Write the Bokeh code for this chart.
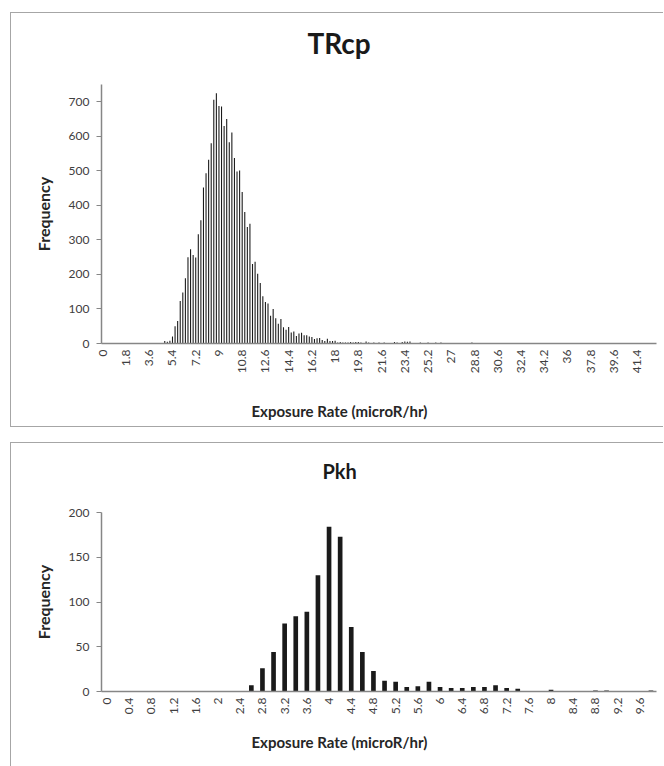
from math import pi
from bokeh.plotting import figure
from bokeh.models import Range1d, FixedTicker, Title
from bokeh.layouts import column
from bokeh.embed import file_html
from bokeh.resources import INLINE

FONT = "Lato"

# ---------------- data ----------------
bin_width = 0.2

# TRcp: frequency per 0.2 microR/hr bin, bins 0.0 .. 42.8
trcp_counts = (
    [0] * 24 +
    [7, 5, 8, 20, 50, 65, 123, 148, 189, 250,
     273, 256, 249, 316, 357, 452, 493, 532, 580, 706,
     725, 688, 686, 630, 650, 583, 611, 537, 498, 501,
     439, 381, 337, 347, 230, 237, 202, 175, 137, 120,
     116, 80, 100, 73, 57, 71, 47, 40, 48, 32,
     35, 22, 29, 31, 24, 24, 20, 19, 13, 15,
     16, 10, 7, 14, 7, 7, 8, 3, 4, 3,
     3, 3, 4, 3, 4, 4, 3, 0, 6, 3,
     0, 3, 0, 3, 0, 3, 0, 0, 0, 4,
     3, 0, 4, 6, 5, 6, 0, 0, 0, 3,
     0, 0, 3, 0, 0, 3, 0, 3, 0, 0,
     0, 0, 0, 0, 0, 0, 0, 0, 0, 3] +
    [0] * 71
)
trcp_tick_labels = ["0", "1.8", "3.6", "5.4", "7.2", "9", "10.8", "12.6", "14.4",
                    "16.2", "18", "19.8", "21.6", "23.4", "25.2", "27", "28.8",
                    "30.6", "32.4", "34.2", "36", "37.8", "39.6", "41.4"]
trcp_label_every = 9

# Pkh: frequency per 0.2 microR/hr bin, bins 0.0 .. 9.8
pkh_counts = (
    [0] * 13 +
    [7, 26, 44, 76, 84, 89, 130, 184, 173, 72,
     44, 23, 12, 11, 5, 6, 11, 5, 4, 4,
     5, 5, 7, 4, 3, 0, 0, 2, 0, 0,
     0, 1, 1, 0, 0, 0, 1]
)
pkh_tick_labels = ["0", "0.4", "0.8", "1.2", "1.6", "2", "2.4", "2.8", "3.2", "3.6",
                   "4", "4.4", "4.8", "5.2", "5.6", "6", "6.4", "6.8", "7.2", "7.6",
                   "8", "8.4", "8.8", "9.2", "9.6"]
pkh_label_every = 2

x_title = "Exposure Rate (microR/hr)"
y_title = "Frequency"

AXIS_COLOR = "#868686"
TEXT_COLOR = "#404040"
BORDER = "1.5px solid #a6a6a6"


def spacer(h):
    return Title(text=" ", text_font_size="1px", standoff=h - 1)


def make_chart(title, counts, labels, every, ymax, ystep, height,
               top_border, bottom_border, title_size, title_offset,
               title_gap, xtitle_gap, styles):
    n = len(counts)
    p = figure(width=653, height=height,
               x_range=Range1d(-0.5, n - 0.5), y_range=Range1d(0, ymax),
               output_backend="svg", toolbar_location=None,
               min_border_left=90, min_border_right=8,
               min_border_top=top_border, min_border_bottom=bottom_border)
    p.vbar(x=list(range(n)), top=counts, width=0.42,
           fill_color="#1a1a1a", line_color=None)

    p.title.text = ""
    p.title.visible = False
    # chart title, centred over the whole chart area
    p.add_layout(spacer(title_gap), "above")
    p.add_layout(Title(text=title, align="left", offset=title_offset, standoff=10,
                       text_font=FONT, text_font_size=title_size,
                       text_font_style="bold", text_color="#1a1a1a"), "above")

    p.xgrid.visible = False
    p.ygrid.visible = False
    p.outline_line_color = None
    p.background_fill_color = "white"
    p.border_fill_color = "white"

    xa = p.xaxis[0]
    xa.ticker = FixedTicker(ticks=[i * every for i in range(len(labels))])
    xa.major_label_overrides = {i * every: lab for i, lab in enumerate(labels)}
    xa.major_label_orientation = pi / 2
    xa.major_tick_out = 0
    xa.major_tick_in = 0
    xa.minor_tick_out = 0
    xa.minor_tick_in = 0
    xa.axis_line_color = AXIS_COLOR
    xa.axis_line_width = 1.5
    xa.major_label_text_font = FONT
    xa.major_label_text_font_size = "12px"
    xa.major_label_text_color = TEXT_COLOR
    xa.major_label_standoff = 6

    # x-axis title, centred under the whole chart area like the original
    p.add_layout(spacer(xtitle_gap), "below")
    p.add_layout(Title(text=x_title, align="left", offset=150, standoff=4,
                       text_font=FONT, text_font_size="15px",
                       text_font_style="bold", text_color="#262626"), "below")

    ya = p.yaxis[0]
    ya.ticker = FixedTicker(ticks=list(range(0, int(ymax) + 1, ystep)))
    ya.major_tick_out = 5
    ya.major_tick_in = 0
    ya.minor_tick_out = 0
    ya.minor_tick_in = 0
    ya.axis_line_color = AXIS_COLOR
    ya.major_tick_line_color = AXIS_COLOR
    ya.axis_line_width = 1.5
    ya.major_label_text_font = FONT
    ya.major_label_text_font_size = "12px"
    ya.major_label_text_color = TEXT_COLOR
    ya.major_label_standoff = 7
    ya.axis_label = y_title
    ya.axis_label_text_font = FONT
    ya.axis_label_text_font_size = "16px"
    ya.axis_label_text_font_style = "bold"
    ya.axis_label_text_color = "#262626"
    ya.axis_label_standoff = 13

    p.styles = styles
    return p


p1 = make_chart("TRcp", trcp_counts, trcp_tick_labels, trcp_label_every,
                750, 100, 415, 71, 85, "28px", 206, 18, 19,
                {"border-top": BORDER, "border-left": BORDER,
                 "border-bottom": BORDER, "box-sizing": "border-box"})
p1.margin = (12, 0, 0, 10)

p2 = make_chart("Pkh", pkh_counts, pkh_tick_labels, pkh_label_every,
                200, 50, 324, 69, 76, "20px", 221, 23, 9,
                {"border-top": BORDER, "border-left": BORDER,
                 "box-sizing": "border-box"})
p2.margin = (15, 0, 0, 10)

layout = column(p1, p2, spacing=0)
layout.margin = 0

open("out.html", "w").write(file_html(layout, INLINE))
